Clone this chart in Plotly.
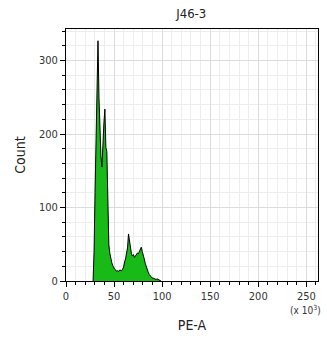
import numpy as np
import plotly.graph_objects as go

# PE-A histogram, 256 channels over 0..262144 (axis in thousands)
title = "J46-3"
x_label = "PE-A"
y_label = "Count"
x_scale_note = "(x 10<sup>3</sup>)"

n_channels = 256
full_scale = 262.144  # x 10^3
first_channel = 27
counts = [
    0, 40, 120, 200, 270, 327, 250, 190, 170, 155,
    195, 215, 234, 182, 176, 95, 50, 38, 30, 25,
    21, 18, 16, 15, 13, 14, 13, 15, 14, 14,
    16, 19, 26, 30, 38, 45, 64, 52, 40, 37,
    34, 36, 32, 34, 35, 38, 37, 41, 44, 46,
    40, 36, 30, 24, 19, 15, 12, 9, 7, 5,
    4, 4, 3, 3, 2, 3, 2, 1, 1, 0,
]

x_ticks = [0, 50, 100, 150, 200, 250]
y_ticks = [0, 100, 200, 300]

bin_width = full_scale / n_channels
x = (first_channel + np.arange(len(counts)) + 0.5) * bin_width

font = "DejaVu Sans Condensed, Liberation Sans, sans-serif"

fig = go.Figure(
    go.Scatter(
        x=x,
        y=counts,
        mode="lines",
        line=dict(color="black", width=1),
        fill="tozeroy",
        fillcolor="rgb(24,186,24)",
        hoverinfo="skip",
    )
)

axis_common = dict(
    showline=True,
    linecolor="black",
    linewidth=1,
    mirror=True,
    ticks="outside",
    ticklen=5,
    tickcolor="black",
    tickwidth=1,
    showgrid=True,
    gridcolor="#dcdcdc",
    gridwidth=1,
    zeroline=False,
    tickfont=dict(family=font, size=11, color="#333"),
)

fig.update_xaxes(
    **axis_common,
    range=[0, full_scale],
    tickvals=x_ticks,
    ticktext=[str(v) for v in x_ticks],
    minor=dict(dtick=10, tick0=0, ticks="outside", ticklen=3, tickcolor="black",
               showgrid=True, gridcolor="#ededed"),
    title=dict(text=x_label, font=dict(family=font, size=14, color="#222"), standoff=17),
)
fig.update_yaxes(
    **axis_common,
    range=[0, 343],
    tickvals=y_ticks,
    ticktext=[str(v) for v in y_ticks],
    minor=dict(dtick=20, tick0=0, ticks="outside", ticklen=3, tickcolor="black",
               showgrid=True, gridcolor="#ededed"),
    title=dict(text=y_label, font=dict(family=font, size=14, color="#222"), standoff=10),
)

fig.add_annotation(
    text=x_scale_note, xref="paper", yref="paper", x=1.02, y=-0.085,
    xanchor="right", yanchor="top", showarrow=False,
    font=dict(family=font, size=10, color="#333"),
)

fig.update_layout(
    width=327,
    height=344,
    margin=dict(l=66, r=9, t=29, b=63),
    paper_bgcolor="white",
    plot_bgcolor="white",
    showlegend=False,
    title=dict(text=title, x=0.585, xanchor="center", y=0.962, yanchor="middle",
               font=dict(family=font, size=13, color="#222")),
)

fig.write_html("out.html")
